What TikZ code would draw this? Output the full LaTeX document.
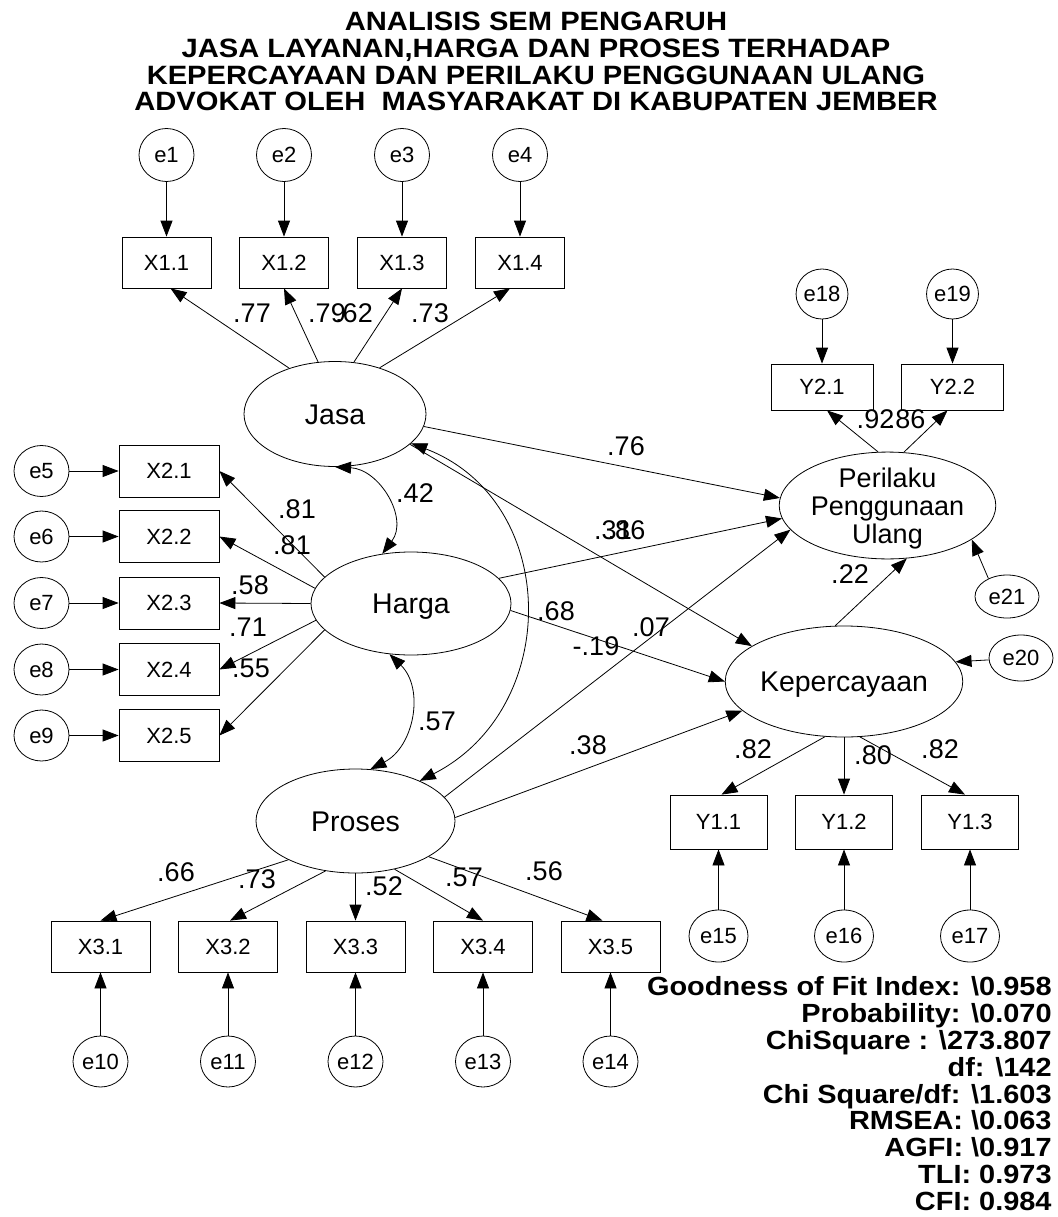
\documentclass[tikz,border=0pt]{standalone}
\usepackage{fontspec}
\setmainfont{Liberation Sans}
\newfontfamily\headfont{Liberation Sans}[FakeStretch=1.1]
\usetikzlibrary{shapes.geometric, positioning, arrows.meta}

\begin{document}
\begin{tikzpicture}[x=1pt,y=1pt,on grid,line width=0.8pt,
    >={Triangle[length=16pt,width=12pt]},
    latent/.style={draw,ellipse,inner sep=0pt,font=\fontsize{28.5}{30}\selectfont,text height=20.5pt,text depth=0pt},
    indic/.style={draw,rectangle,inner sep=0pt,minimum width=#1,minimum height=52pt,font=\fontsize{22}{24}\selectfont,text height=15.8pt,text depth=0pt},
    indic/.default=99pt,
    err/.style={draw,ellipse,inner sep=0pt,minimum width=55pt,minimum height=51pt,font=\fontsize{22}{24}\selectfont,text height=15.8pt,text depth=0pt},
    coef/.style={inner sep=0pt,font=\fontsize{27}{28}\selectfont,text height=19.3pt,text depth=0pt},
    fitbox/.style={inner sep=0pt,font=\headfont\bfseries\fontsize{26.3}{26.9}\selectfont}]

\useasboundingbox (0,0) rectangle (1057,-1217);

% title
\node[anchor=north,align=center,inner sep=0pt,font=\headfont\bfseries\fontsize{26.5}{26.7}\selectfont] (title) at (536,-11.7)
  {ANALISIS SEM PENGARUH\\JASA LAYANAN,HARGA DAN PROSES TERHADAP\\KEPERCAYAAN DAN PERILAKU PENGGUNAAN ULANG\\ADVOKAT OLEH\ \ MASYARAKAT DI KABUPATEN JEMBER};

% latent variables
\node[latent,minimum width=182pt,minimum height=105pt] (Jasa) at (335,-414) {Jasa};
\node[latent,minimum width=200pt,minimum height=103pt] (Harga) at (411,-603.5) {Harga};
\node[latent,minimum width=199pt,minimum height=104pt] (Proses) at (355.5,-821) {Proses};
\node[latent,minimum width=198pt,minimum height=111pt] (Kep) at (844,-681.5) {Kepercayaan};
\node[latent,minimum width=205pt,minimum height=93pt,align=center,font=\fontsize{27}{28}\selectfont,text height=,text depth=0pt] (Perilaku) at (887.5,-505.5) {Perilaku\\Penggunaan\\Ulang};

% indicators
\node[indic=89pt,minimum height=51pt] (X11) at (166.5,-262.5) {X1.1};
\node[indic=89pt,minimum height=51pt] (X12) at (284,-262.5) {X1.2};
\node[indic=89pt,minimum height=51pt] (X13) at (402,-262.5) {X1.3};
\node[indic=89pt,minimum height=51pt] (X14) at (520,-262.5) {X1.4};

\node[indic=100pt] (X21) at (169,-471) {X2.1};
\node[indic=100pt] (X22) at (169,-536.5) {X2.2};
\node[indic=100pt] (X23) at (169,-603) {X2.3};
\node[indic=100pt] (X24) at (169,-669.5) {X2.4};
\node[indic=100pt] (X25) at (169,-735.5) {X2.5};

\node[indic,minimum height=51pt] (X31) at (100.5,-946.5) {X3.1};
\node[indic,minimum height=51pt] (X32) at (228,-946.5) {X3.2};
\node[indic,minimum height=51pt] (X33) at (355.5,-946.5) {X3.3};
\node[indic,minimum height=51pt] (X34) at (483,-946.5) {X3.4};
\node[indic,minimum height=51pt] (X35) at (610.5,-946.5) {X3.5};

\node[indic=97pt,minimum height=54pt] (Y11) at (718.5,-822) {Y1.1};
\node[indic=97pt,minimum height=54pt] (Y12) at (844,-822) {Y1.2};
\node[indic=97pt,minimum height=54pt] (Y13) at (970,-822) {Y1.3};

\node[indic=102pt,minimum height=46pt] (Y21) at (822,-387) {Y2.1};
\node[indic=102pt,minimum height=46pt] (Y22) at (952.5,-387) {Y2.2};

% error terms
\node[err,minimum height=53pt] (e1) [above=107.5pt of X11] {e1};
\node[err,minimum height=53pt] (e2) [above=107.5pt of X12] {e2};
\node[err,minimum height=53pt] (e3) [above=107.5pt of X13] {e3};
\node[err,minimum height=53pt] (e4) [above=107.5pt of X14] {e4};

\node[err] (e5) [left=127.5pt of X21] {e5};
\node[err] (e6) [left=127.5pt of X22] {e6};
\node[err] (e7) [left=127.5pt of X23] {e7};
\node[err] (e8) [left=127.5pt of X24] {e8};
\node[err] (e9) [left=127.5pt of X25] {e9};

\node[err] (e10) [below=115pt of X31] {e10};
\node[err] (e11) [below=115pt of X32] {e11};
\node[err] (e12) [below=115pt of X33] {e12};
\node[err] (e13) [below=115pt of X34] {e13};
\node[err] (e14) [below=115pt of X35] {e14};

\node[err,minimum width=59pt,minimum height=52pt] (e15) [below=114pt of Y11] {e15};
\node[err,minimum width=59pt,minimum height=52pt] (e16) [below=114pt of Y12] {e16};
\node[err,minimum width=59pt,minimum height=52pt] (e17) [below=114pt of Y13] {e17};

\node[err,minimum width=50pt,minimum height=50pt] (e18) [above=93pt of Y21] {e18};
\node[err,minimum width=50pt,minimum height=50pt] (e19) [above=93pt of Y22] {e19};

\node[err,minimum width=64pt,minimum height=46pt] (e20) at (1021,-658) {e20};
\node[err,minimum width=64pt,minimum height=43pt] (e21) at (1007,-596.5) {e21};

% measurement paths
\path[->]
  (e1) edge (X11)  (e2) edge (X12)  (e3) edge (X13)  (e4) edge (X14)
  (e5) edge (X21)  (e6) edge (X22)  (e7) edge (X23)  (e8) edge (X24)  (e9) edge (X25)
  (e10) edge (X31) (e11) edge (X32) (e12) edge (X33) (e13) edge (X34) (e14) edge (X35)
  (e15) edge (Y11) (e16) edge (Y12) (e17) edge (Y13)
  (e18) edge (Y21) (e19) edge (Y22)
  (Jasa.135) edge ([xshift=4pt]X11.south)
  (Jasa.108) edge (X12.south)
  (Jasa.70) edge (X13.south)
  (Jasa.46) edge ([xshift=-10pt]X14.south)
  (Harga.163) edge (X21.east)
  (Harga.171) edge (X22.east)
  (Harga.west) edge (X23.east)
  (Harga.190) edge (X24.east)
  (Harga.197) edge (X25.east)
  (Proses.210) edge (X31.north)
  (Proses.239) edge ([xshift=2pt]X32.north)
  (Proses.south) edge (X33.north)
  (Proses.309) edge (X34.north)
  (Proses.334) edge ([xshift=-8pt]X35.north)
  (Kep.251) edge ([xshift=3pt]Y11.north)
  (Kep.south) edge (Y12.north)
  (Kep.286) edge ([xshift=-5pt]Y13.north)
  (Perilaku.100) edge ([xshift=5pt]Y21.south)
  (Perilaku.73) edge ([xshift=-5pt]Y22.south);

% structural paths
\path[->]
  (Jasa.352) edge (Perilaku.176)
  (Harga.16) edge (Perilaku.187)
  (Proses.15) edge (Perilaku.194)
  (Proses.2) edge (Kep.196)
  (Harga.356) edge (Kep.west)
  (Jasa.338) edge (Kep.159)
  (Kep.99) edge (Perilaku.290)
  (e21.136) edge (Perilaku.338)
  (e20) edge (Kep.10);

% covariances
\path[<->]
  (Jasa.south) edge[out=-3,in=53,looseness=1.15] (Harga.120)
  (Harga.247) edge[out=-44,in=27,looseness=1.08] (Proses.74)
  (Jasa.339) edge[out=-21,in=27,looseness=1.21] (Proses.32);

% estimates
\node[coef] (c11) at (252,-313) {.77};
\node[coef] (c12) at (327,-313) {.79};
\node[coef] (c13) at (354,-313) {.62};
\node[coef] (c14) at (430,-313) {.73};
\node[coef] (cJH) at (415,-493) {.42};
\node[coef] (c21) at (297,-509) {.81};
\node[coef] (c22) at (292,-545) {.81};
\node[coef] (c23) at (250,-585) {.58};
\node[coef] (c24) at (248,-627) {.71};
\node[coef] (c25) at (251,-668) {.55};
\node[coef] (cHP) at (437,-721) {.57};
\node[coef] (c31) at (176,-872) {.66};
\node[coef] (c32) at (257,-879) {.73};
\node[coef] (c33) at (384,-886) {.52};
\node[coef] (c34) at (464,-877) {.57};
\node[coef] (c35) at (544,-871) {.56};
\node[coef] (cJP) at (626,-446) {.76};
\node[coef] (cY21) at (875.5,-419) {.92};
\node[coef] (cY22) at (906.5,-419) {.86};
\node[coef] (cJK) at (613,-530) {.31};
\node[coef] (cHPr) at (626.5,-530) {.86};
\node[coef] (cJPr) at (556,-611) {.68};
\node[coef] (cPP) at (651,-627) {.07};
\node[coef] (cHK) at (596,-646) {-.19};
\node[coef] (cPK) at (588,-745) {.38};
\node[coef] (cKP) at (850,-574) {.22};
\node[coef] (cY11) at (753,-749) {.82};
\node[coef] (cY12) at (873,-755) {.80};
\node[coef] (cY13) at (940,-749) {.82};

% fit indices
\node[fitbox,anchor=north east,align=right] (fit) at (1052,-976)
  {Goodness of Fit Index: \textbackslash 0.958\\
   Probability: \textbackslash 0.070\\
   ChiSquare : \textbackslash 273.807\\
   df: \textbackslash 142\\
   Chi Square/df: \textbackslash 1.603\\
   RMSEA: \textbackslash 0.063\\
   AGFI: \textbackslash 0.917\\
   TLI: 0.973\\
   CFI: 0.984};
\end{tikzpicture}
\end{document}
